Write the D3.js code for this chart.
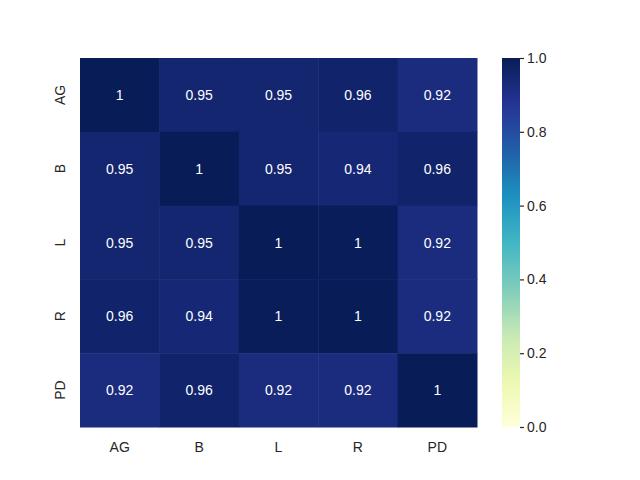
<!DOCTYPE html>
<html>
<head>
<meta charset="utf-8">
<script src="https://cdn.jsdelivr.net/npm/d3@7"></script>
<style>
  body { margin: 0; background: #fff; }
  text { font-family: "Liberation Sans", Arial, sans-serif; }
</style>
</head>
<body>
<div id="vis"></div>
<script>
// labels and matrix values
const labels = ['AG', 'B', 'L', 'R', 'PD']
const matrix = [
  [1.00, 0.95, 0.95, 0.96, 0.92],
  [0.95, 1.00, 0.95, 0.94, 0.96],
  [0.95, 0.95, 1.00, 0.998, 0.92],
  [0.96, 0.94, 0.998, 1.00, 0.92],
  [0.92, 0.96, 0.92, 0.92, 1.00]
]
const cbarTicks = [0, 0.2, 0.4, 0.6, 0.8, 1.0]

// matplotlib YlGnBu anchors
const ylgnbu = ['#ffffd9', '#edf8b1', '#c7e9b4', '#7fcdbb', '#41b6c4', '#1d91c0', '#225ea8', '#253494', '#081d58']

let width = 640, height = 480
let mLeft = 80, mTop = 58, mRight = 477, mBottom = 427

let svg = d3.select('#vis').append('svg')
  .attr('width', width)
  .attr('height', height)

let color = d3.scaleLinear()
  .domain(d3.range(ylgnbu.length).map(i => i / (ylgnbu.length - 1)))
  .range(ylgnbu)
  .clamp(true)

let x = d3.scaleBand().domain(labels).range([mLeft, mRight])
let y = d3.scaleBand().domain(labels).range([mTop, mBottom])

let cells = []
matrix.forEach((row, i) => row.forEach((v, j) => cells.push({ r: labels[i], c: labels[j], v: v })))

svg.selectAll('.cell')
  .data(cells)
  .join('rect')
  .attr('x', d => x(d.c))
  .attr('y', d => y(d.r))
  .attr('width', x.bandwidth() + 0.5)
  .attr('height', y.bandwidth() + 0.5)
  .attr('fill', d => color(d.v))

let fmt = d3.format('.2~g')
svg.selectAll('.annot')
  .data(cells)
  .join('text')
  .attr('x', d => x(d.c) + x.bandwidth() / 2)
  .attr('y', d => y(d.r) + y.bandwidth() / 2)
  .attr('text-anchor', 'middle')
  .attr('dominant-baseline', 'central')
  .attr('fill', d => d.v > 0.6 ? '#ffffff' : '#262626')
  .style('font-size', '14px')
  .text(d => fmt(d.v))

// axis tick labels (no tick lines, like seaborn)
svg.selectAll('.xlab')
  .data(labels)
  .join('text')
  .attr('x', d => x(d) + x.bandwidth() / 2)
  .attr('y', mBottom + 20)
  .attr('text-anchor', 'middle')
  .attr('dominant-baseline', 'central')
  .attr('fill', '#262626')
  .style('font-size', '14px')
  .text(d => d)

svg.selectAll('.ylab')
  .data(labels)
  .join('text')
  .attr('transform', d => `translate(60,${y(d) + y.bandwidth() / 2}) rotate(-90)`)
  .attr('text-anchor', 'middle')
  .attr('dominant-baseline', 'central')
  .attr('fill', '#262626')
  .style('font-size', '14px')
  .text(d => d)

// colorbar
let cbX = 502, cbW = 18
let cbScale = d3.scaleLinear().domain([0, 1]).range([mBottom, mTop])

let grad = svg.append('defs').append('linearGradient')
  .attr('id', 'cbar')
  .attr('x1', 0).attr('y1', 1).attr('x2', 0).attr('y2', 0)
grad.selectAll('stop')
  .data(d3.range(0, 1.0001, 0.02))
  .join('stop')
  .attr('offset', d => d)
  .attr('stop-color', d => color(d))

svg.append('rect')
  .attr('x', cbX)
  .attr('y', mTop)
  .attr('width', cbW)
  .attr('height', mBottom - mTop)
  .attr('fill', 'url(#cbar)')

let cbAxis = svg.append('g')
  .attr('transform', `translate(${cbX + cbW},0)`)
  .call(d3.axisRight(cbScale).tickValues(cbarTicks).tickFormat(d3.format('.1f')).tickSize(4).tickPadding(3))
cbAxis.select('.domain').remove()
cbAxis.selectAll('line').attr('stroke', '#262626').attr('stroke-width', 1.2)
cbAxis.selectAll('text')
  .attr('fill', '#262626')
  .style('font-size', '14px')
  .style('font-family', '"Liberation Sans", Arial, sans-serif')
</script>
</body>
</html>
